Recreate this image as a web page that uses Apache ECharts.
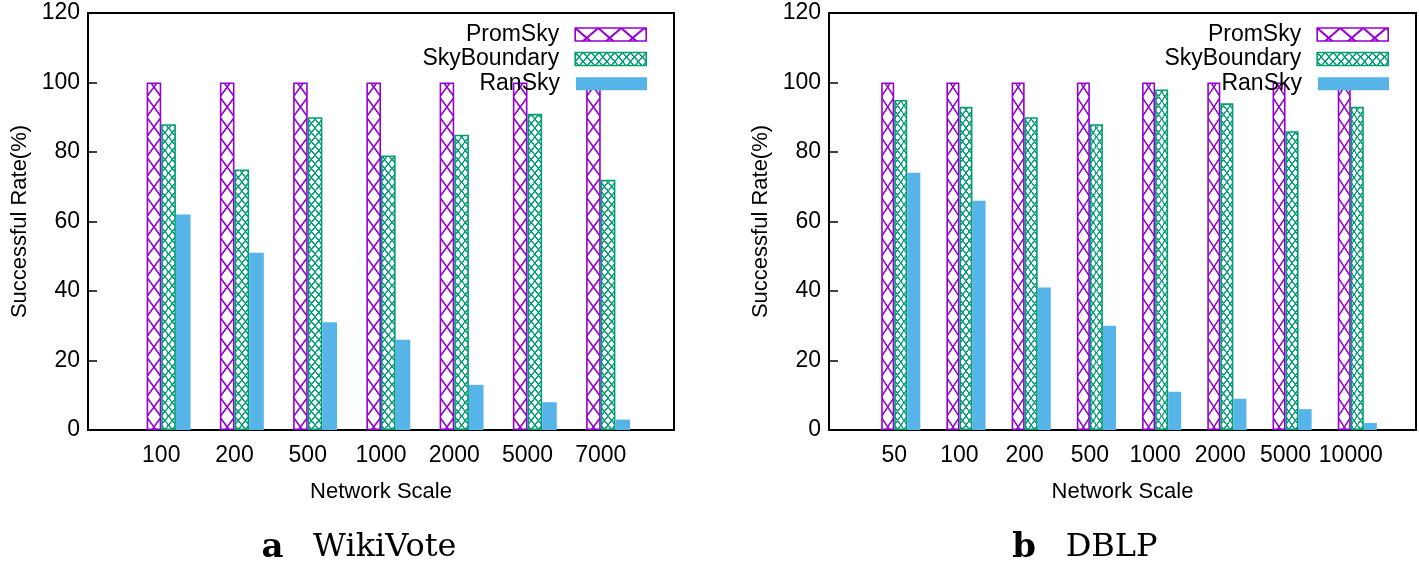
<!DOCTYPE html>
<html><head><meta charset="utf-8">
<script src="https://cdn.jsdelivr.net/npm/echarts@6/dist/echarts.min.js"></script>
<style>html,body{margin:0;padding:0;background:#fff}#main{width:1419px;height:578px}</style>
</head><body><div id="main"></div>
<script>
// ---- data ----
const seriesNames = ['PromSky', 'SkyBoundary', 'RanSky'];
const categoriesA = ['100', '200', '500', '1000', '2000', '5000', '7000'];
const promSkyA = [100, 100, 100, 100, 100, 100, 100];
const skyBoundaryA = [88, 75, 90, 79, 85, 91, 72];
const ranSkyA = [62, 51, 31, 26, 13, 8, 3];
const categoriesB = ['50', '100', '200', '500', '1000', '2000', '5000', '10000'];
const promSkyB = [100, 100, 100, 100, 100, 100, 100, 100];
const skyBoundaryB = [95, 93, 90, 88, 98, 94, 86, 93];
const ranSkyB = [74, 66, 41, 30, 11, 9, 6, 2];
const yMin = 0, yMax = 120, yStep = 20;
const captions = [['a', 'WikiVote'], ['b', 'DBLP']];

// ---- styling / layout ----
const PURPLE = '#9400d3', GREEN = '#009e73', BLUE = '#56b4e9';
const FONT = 'Liberation Sans, Arial, Helvetica, sans-serif';
const SERIF = 'DejaVu Serif, serif';
const CLUSTER_SHIFT = 0.1;   // gnuplot places the tick at the 1st/2nd bar boundary
const BAR_FRAC = 0.2;
const panels = [
  { cats: categoriesA, vals: [promSkyA, skyBoundaryA, ranSkyA], left: 88, right: 674, legendRight: 772, capCenter: 359 },
  { cats: categoriesB, vals: [promSkyB, skyBoundaryB, ranSkyB], left: 829, right: 1416, legendRight: 30, capCenter: 1085 }
];
const TOP = 13, BOTTOM = 430;

function makeTile(kind, color) {
  const c = document.createElement('canvas');
  c.width = 30; c.height = kind === 'big' ? 40 : 36;
  const g = c.getContext('2d');
  g.fillStyle = '#fff'; g.fillRect(0, 0, c.width, c.height);
  g.strokeStyle = color; g.lineWidth = kind === 'big' ? 3.2 : 5.5;
  g.beginPath();
  g.moveTo(0, 0); g.lineTo(c.width, c.height);
  g.moveTo(c.width, 0); g.lineTo(0, c.height);
  g.stroke();
  return c;
}
const tileBig = makeTile('big', PURPLE);
const tileSmall = makeTile('small', GREEN);

function pattern(si, x, y, bw) {
  if (si === 0) return { image: tileBig, repeat: 'repeat', x: x, y: y, scaleX: bw / 30, scaleY: 0.5 };
  return { image: tileSmall, repeat: 'repeat', x: x, y: y, scaleX: bw / 2 / 30, scaleY: 0.25 };
}
const seriesColors = [PURPLE, GREEN, BLUE];

const chart = echarts.init(document.getElementById('main'), null, { renderer: 'canvas' });

function buildOption(withPatterns) {
  const grid = [], xAxis = [], yAxis = [], series = [], legend = [], title = [];
  panels.forEach((p, k) => {
    const n = p.cats.length;
    const unit = (p.right - p.left) / (n + 1);
    const bw = unit * BAR_FRAC;
    grid.push({ left: p.left, width: p.right - p.left, top: TOP, height: BOTTOM - TOP,
      show: true, borderColor: '#000', borderWidth: 2, backgroundColor: 'transparent' });
    xAxis.push({ type: 'value', gridIndex: k, min: -1, max: n, interval: 1,
      axisLine: { show: true, onZero: false, lineStyle: { color: '#000', width: 2 } },
      axisTick: { show: false }, splitLine: { show: false },
      axisLabel: { fontSize: 23, fontFamily: FONT, color: '#000', margin: 14,
        formatter: v => (v >= 0 && v < n && Number.isInteger(v)) ? p.cats[v] : '' },
      name: 'Network Scale', nameLocation: 'middle', nameGap: 51,
      nameTextStyle: { fontSize: 22, fontFamily: FONT, color: '#000' } });
    yAxis.push({ type: 'value', gridIndex: k, min: yMin, max: yMax, interval: yStep,
      axisLine: { show: true, onZero: false, lineStyle: { color: '#000', width: 2 } },
      axisTick: { show: true, inside: true, length: 9, lineStyle: { color: '#000', width: 1.5 } },
      splitLine: { show: false },
      axisLabel: { fontSize: 23, fontFamily: FONT, color: '#000', margin: 8 },
      name: 'Successful Rate(%)', nameLocation: 'middle', nameGap: 57, nameRotate: 90,
      nameTextStyle: { fontSize: 22, fontFamily: FONT, color: '#000' } });
    p.vals.forEach((vals, si) => {
      const data = vals.map((v, i) => {
        const xv = i + CLUSTER_SHIFT;
        if (!withPatterns || si === 2) return [xv, v];
        const cx = chart.convertToPixel({ xAxisIndex: k }, xv);
        const barLeft = cx - 1.5 * bw + si * bw;
        const yOff = si === 0 ? -3 : 2;
        return { value: [xv, v], itemStyle: { color: pattern(si, barLeft, yOff, bw) } };
      });
      series.push({ type: 'bar', name: seriesNames[si], xAxisIndex: k, yAxisIndex: k,
        barWidth: bw, barGap: '0%', data: data, silent: true,
        itemStyle: si === 2 ? { color: BLUE } :
          { color: seriesColors[si], borderColor: seriesColors[si], borderWidth: 1.6 } });
    });
    const centers = [34.5, 59, 83.7];
    seriesNames.forEach((nm, si) => {
      legend.push({ data: [{ name: nm, itemStyle: si === 2 ? { color: BLUE } :
            { color: pattern(si, 0, 0, si === 0 ? 23 : 15.8), borderColor: seriesColors[si], borderWidth: 1.6 } }],
        orient: 'vertical', align: 'right', right: p.legendRight, top: centers[si] - 12,
        itemWidth: 71, itemHeight: 13, icon: 'rect', padding: 0, selectedMode: false,
        textStyle: { fontSize: 23, fontFamily: FONT, color: '#000', lineHeight: 24, padding: [0, 11, 0, 0] } });
    });
    title.push({ text: '{b|' + captions[k][0] + '}   {t|' + captions[k][1] + '}',
      left: p.capCenter, textAlign: 'center', top: 531, padding: 0,
      textStyle: { fontWeight: 'normal', fontFamily: SERIF, fontSize: 31, rich: {
        b: { fontFamily: SERIF, fontWeight: 'bold', fontSize: 34, color: '#000' },
        t: { fontFamily: SERIF, fontWeight: 'normal', fontSize: 32, color: '#000' } } } });
  });
  return { animation: false, backgroundColor: '#fff', grid, xAxis, yAxis, series, legend, title };
}

chart.setOption(buildOption(false));
chart.setOption(buildOption(true), true);
</script></body></html>
